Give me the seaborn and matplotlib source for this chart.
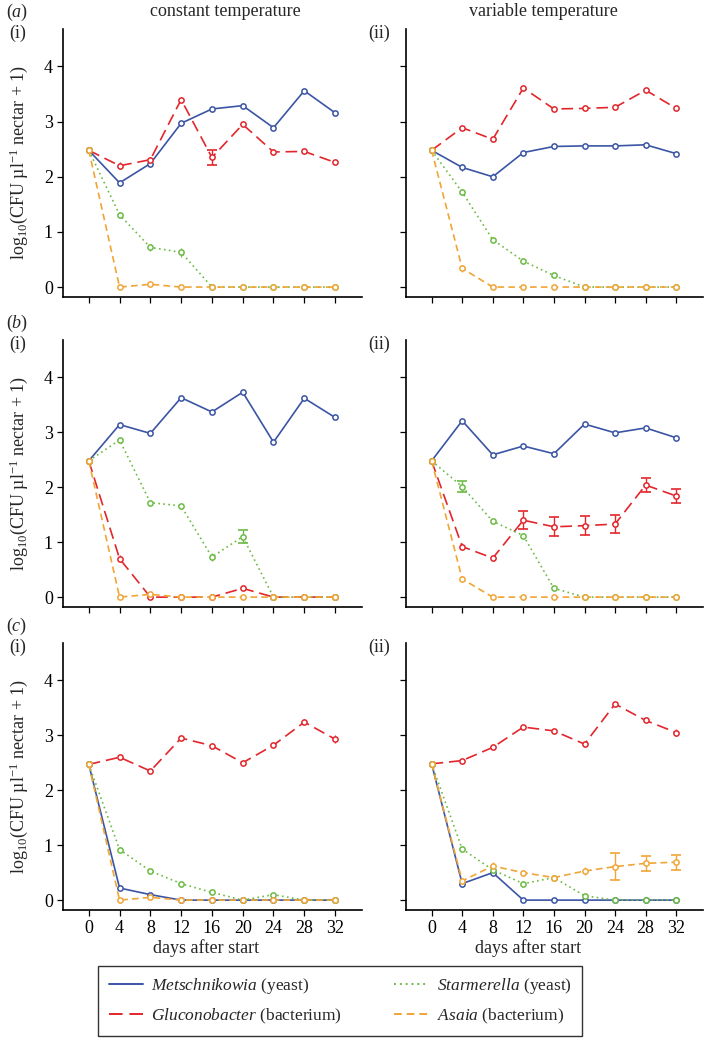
import numpy as np
import pandas as pd
import seaborn as sns
import matplotlib
matplotlib.use("Agg")
import matplotlib.pyplot as plt
from matplotlib.lines import Line2D

days = [0, 4, 8, 12, 16, 20, 24, 28, 32]
species = ["Metschnikowia", "Gluconobacter", "Starmerella", "Asaia"]
kinds = ["yeast", "bacterium", "yeast", "bacterium"]

# (a) constant temperature
a_const_metsch = [2.48, 1.89, 2.24, 2.97, 3.23, 3.29, 2.89, 3.56, 3.16]
a_const_glucon = [2.48, 2.20, 2.31, 3.40, 2.35, 2.95, 2.45, 2.46, 2.26]
a_const_starm = [2.48, 1.31, 0.72, 0.63, 0, 0, 0, 0, 0]
a_const_asaia = [2.48, 0, 0.05, 0, 0, 0, 0, 0, 0]
# (a) variable temperature
a_var_metsch = [2.48, 2.17, 2.00, 2.44, 2.55, 2.56, 2.56, 2.58, 2.42]
a_var_glucon = [2.48, 2.89, 2.68, 3.61, 3.23, 3.24, 3.26, 3.57, 3.24]
a_var_starm = [2.48, 1.72, 0.86, 0.47, 0.21, 0, 0, 0, 0]
a_var_asaia = [2.48, 0.34, 0, 0, 0, 0, 0, 0, 0]
# (b) constant temperature
b_const_metsch = [2.48, 3.14, 2.98, 3.63, 3.37, 3.73, 2.82, 3.62, 3.27]
b_const_glucon = [2.48, 0.70, 0, 0, 0, 0.16, 0, 0, 0]
b_const_starm = [2.48, 2.86, 1.72, 1.66, 0.73, 1.10, 0, 0, 0]
b_const_asaia = [2.48, 0, 0.05, 0, 0, 0, 0, 0, 0]
# (b) variable temperature
b_var_metsch = [2.48, 3.21, 2.59, 2.75, 2.61, 3.15, 2.99, 3.08, 2.90]
b_var_glucon = [2.48, 0.92, 0.71, 1.40, 1.28, 1.30, 1.33, 2.04, 1.84]
b_var_starm = [2.48, 2.01, 1.38, 1.12, 0.16, 0, 0, 0, 0]
b_var_asaia = [2.48, 0.33, 0, 0, 0, 0, 0, 0, 0]
# (c) constant temperature
c_const_metsch = [2.47, 0.22, 0.10, 0, 0, 0, 0, 0, 0]
c_const_glucon = [2.47, 2.60, 2.35, 2.95, 2.81, 2.50, 2.82, 3.24, 2.93]
c_const_starm = [2.47, 0.92, 0.53, 0.30, 0.14, 0, 0.10, 0, 0]
c_const_asaia = [2.47, 0, 0.05, 0, 0, 0, 0, 0, 0]
# (c) variable temperature
c_var_metsch = [2.48, 0.30, 0.50, 0, 0, 0, 0, 0, 0]
c_var_glucon = [2.48, 2.54, 2.78, 3.15, 3.08, 2.84, 3.57, 3.27, 3.05]
c_var_starm = [2.48, 0.93, 0.55, 0.30, 0.41, 0.08, 0, 0, 0]
c_var_asaia = [2.48, 0.35, 0.62, 0.50, 0.41, 0.53, 0.61, 0.67, 0.69]

# standard errors (0 = not visible)
a_const_metsch_err = [0, 0.05, 0.03, 0.05, 0.02, 0.02, 0.03, 0.02, 0.02]
a_const_glucon_err = [0, 0.06, 0.05, 0.05, 0.14, 0.03, 0.06, 0.02, 0.02]
a_const_starm_err = [0, 0.05, 0.06, 0.08, 0, 0, 0, 0, 0]
a_const_asaia_err = [0, 0, 0.02, 0, 0, 0, 0, 0, 0]
a_var_metsch_err = [0, 0.07, 0.06, 0.03, 0.02, 0.03, 0.05, 0.02, 0.02]
a_var_glucon_err = [0, 0.04, 0.04, 0.04, 0.03, 0.03, 0.05, 0.03, 0.05]
a_var_starm_err = [0, 0.05, 0.05, 0.04, 0.03, 0, 0, 0, 0]
a_var_asaia_err = [0, 0.06, 0, 0, 0, 0, 0, 0, 0]
b_const_metsch_err = [0, 0.02, 0.02, 0.02, 0.02, 0.02, 0.02, 0.02, 0.02]
b_const_glucon_err = [0, 0.06, 0, 0, 0, 0.03, 0, 0, 0]
b_const_starm_err = [0, 0.03, 0.02, 0.03, 0.07, 0.12, 0, 0, 0]
b_const_asaia_err = [0, 0, 0.02, 0, 0, 0, 0, 0, 0]
b_var_metsch_err = [0, 0.02, 0.03, 0.02, 0.02, 0.02, 0.02, 0.02, 0.03]
b_var_glucon_err = [0, 0.06, 0.06, 0.16, 0.17, 0.17, 0.17, 0.12, 0.13]
b_var_starm_err = [0, 0.10, 0.03, 0.04, 0.02, 0, 0, 0, 0]
b_var_asaia_err = [0, 0.05, 0, 0, 0, 0, 0, 0, 0]
c_const_metsch_err = [0, 0.04, 0.02, 0, 0, 0, 0, 0, 0]
c_const_glucon_err = [0, 0.03, 0.03, 0.03, 0.03, 0.03, 0.03, 0.04, 0.07]
c_const_starm_err = [0, 0.05, 0.04, 0.03, 0.02, 0, 0.02, 0, 0]
c_const_asaia_err = [0, 0, 0.02, 0, 0, 0, 0, 0, 0]
c_var_metsch_err = [0, 0.06, 0.05, 0, 0, 0, 0, 0, 0]
c_var_glucon_err = [0, 0.03, 0.03, 0.03, 0.03, 0.06, 0.03, 0.03, 0.07]
c_var_starm_err = [0, 0.04, 0.04, 0.04, 0.05, 0.02, 0, 0, 0]
c_var_asaia_err = [0, 0.05, 0.07, 0.05, 0.05, 0.08, 0.24, 0.14, 0.14]

panels = {
    ("a", "const"): ([a_const_metsch, a_const_glucon, a_const_starm, a_const_asaia],
                     [a_const_metsch_err, a_const_glucon_err, a_const_starm_err, a_const_asaia_err]),
    ("a", "var"): ([a_var_metsch, a_var_glucon, a_var_starm, a_var_asaia],
                   [a_var_metsch_err, a_var_glucon_err, a_var_starm_err, a_var_asaia_err]),
    ("b", "const"): ([b_const_metsch, b_const_glucon, b_const_starm, b_const_asaia],
                     [b_const_metsch_err, b_const_glucon_err, b_const_starm_err, b_const_asaia_err]),
    ("b", "var"): ([b_var_metsch, b_var_glucon, b_var_starm, b_var_asaia],
                   [b_var_metsch_err, b_var_glucon_err, b_var_starm_err, b_var_asaia_err]),
    ("c", "const"): ([c_const_metsch, c_const_glucon, c_const_starm, c_const_asaia],
                     [c_const_metsch_err, c_const_glucon_err, c_const_starm_err, c_const_asaia_err]),
    ("c", "var"): ([c_var_metsch, c_var_glucon, c_var_starm, c_var_asaia],
                   [c_var_metsch_err, c_var_glucon_err, c_var_starm_err, c_var_asaia_err]),
}

palette = {"Metschnikowia": "#3b55a4", "Gluconobacter": "#e2262c",
           "Starmerella": "#6cbb45", "Asaia": "#f0a535"}
dashes = {"Metschnikowia": "", "Gluconobacter": (7, 3.5),
          "Starmerella": (1, 2), "Asaia": (4, 2.5)}

sns.set_theme(style="ticks")
plt.rcParams["font.family"] = ["Liberation Serif", "DejaVu Serif"]
plt.rcParams["mathtext.fontset"] = "custom"
plt.rcParams["mathtext.rm"] = "Liberation Serif"
plt.rcParams["mathtext.it"] = "Liberation Serif:italic"
plt.rcParams["mathtext.bf"] = "Liberation Serif:bold"

W, H = 705, 1038
fig = plt.figure(figsize=(W / 100, H / 100), dpi=100)

row_px = {"a": (29, 297), "b": (340, 607), "c": (643, 910)}
col_px = {"const": (63, 362), "var": (406, 703)}
FS = 13

for (row, col), (vals, errs) in panels.items():
    top, bot = row_px[row]
    left, right = col_px[col]
    ax = fig.add_axes([left / W, 1 - bot / H, (right - left) / W, (bot - top) / H])

    df = pd.concat([pd.DataFrame({"day": days, "value": v, "species": s})
                    for s, v in zip(species, vals)], ignore_index=True)
    sns.lineplot(data=df, x="day", y="value", hue="species", style="species",
                 hue_order=species, style_order=species, palette=palette,
                 dashes=dashes, markers={s: "o" for s in species},
                 linewidth=1.2, markersize=3.8, errorbar=None, legend=False, ax=ax)
    for line in ax.lines:
        line.set_markerfacecolor("white")
        line.set_markeredgecolor(line.get_color())
        line.set_markeredgewidth(1.1)

    # error bars: caps only where the error is large enough to show them
    for s, v, e in zip(species, vals, errs):
        e = np.array(e)
        x = np.array(days)
        y = np.array(v)
        small = (e > 0) & (e < 0.1)
        big = e >= 0.1
        if small.any():
            ax.errorbar(x[small], y[small], yerr=e[small], fmt="none",
                        ecolor=palette[s], elinewidth=0.9, capsize=0, zorder=1)
        if big.any():
            ax.errorbar(x[big], y[big], yerr=e[big], fmt="none",
                        ecolor=palette[s], elinewidth=1.0, capsize=3.5, capthick=1.2, zorder=1)

    ax.set_xlim(-3.35, 35.5)
    ax.set_ylim(-0.18, 4.68)
    ax.set_xticks(days)
    ax.set_yticks([0, 1, 2, 3, 4])
    sns.despine(ax=ax)
    for sp in ["left", "bottom"]:
        ax.spines[sp].set_linewidth(1.2)
        ax.spines[sp].set_color("black")
    ax.tick_params(direction="out", length=4.3, width=0.9, color="black",
                   labelsize=FS, pad=3, labelcolor="black")
    ax.set_xlabel("")
    ax.set_ylabel("")
    if row != "c":
        ax.tick_params(labelbottom=False)
    if col == "var":
        ax.tick_params(labelleft=False)
    else:
        ax.set_ylabel(r"log$_{10}$(CFU µl$^{-1}$ nectar + 1)", fontsize=FS)
        ax.yaxis.set_label_coords(-0.112, 0.5)

    # panel labels
    fx = 18 / W if col == "const" else 379 / W
    fig.text(fx, 1 - (top + 4) / H, "(i)" if col == "const" else "(ii)",
             fontsize=FS, ha="center", va="center")
    if col == "const":
        fig.text(17 / W, 1 - (top - 17) / H, "($\\it{%s}$)" % row,
                 fontsize=FS, ha="center", va="center")

fig.text(225 / W, 1 - 12 / H, "constant temperature", fontsize=FS, ha="center", va="center")
fig.text(543 / W, 1 - 12 / H, "variable temperature", fontsize=FS, ha="center", va="center")
fig.text(206 / W, 1 - 948 / H, "days after start", fontsize=FS, ha="center", va="center")
fig.text(528 / W, 1 - 948 / H, "days after start", fontsize=FS, ha="center", va="center")

handles = [Line2D([], [], color=palette[s], linewidth=1.4,
                  dashes=dashes[s] if dashes[s] else (None, None)) for s in species]
labels = [r"$\it{%s}$ (%s)" % (s, k) for s, k in zip(species, kinds)]
leg = fig.legend(handles, labels, loc="center", bbox_to_anchor=(340 / W, 1 - 1001 / H),
                 ncol=2, fontsize=12.5, frameon=True, fancybox=False, edgecolor="black",
                 handlelength=2.0, handletextpad=0.45, columnspacing=3.0,
                 labelspacing=0.6, borderpad=0.6)
leg.get_frame().set_linewidth(1.0)

fig.savefig("out.png", dpi=100)
